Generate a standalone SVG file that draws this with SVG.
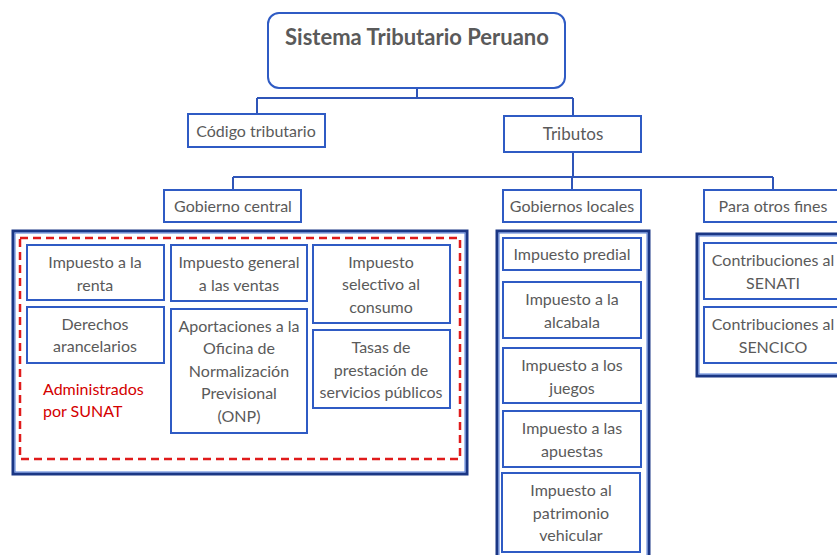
<svg xmlns="http://www.w3.org/2000/svg" width="837" height="555" viewBox="0 0 837 555">
<style>
.n{fill:#fff;stroke:#2f5bc4;stroke-width:2}
.c{fill:none;stroke:#2f55b8;stroke-width:2}
.co{fill:none;stroke:#1b3785;stroke-width:3}
.ci{fill:none;stroke:#4f78d6;stroke-width:1}
text{font-family:Lato,"Open Sans","Liberation Sans",sans-serif;fill:#5a5a5a;font-size:16px;text-anchor:middle}
.t{font-size:22px;font-weight:bold}
.r{fill:#d40000;text-anchor:start}
</style>
<rect width="837" height="555" fill="#fff"/>
<g id="connectors">
<path class="c" d="M417 88V98M257 98H573M257 98V114M573 98V116"/>
<path class="c" d="M573 152V177M233 177H773M233 177V190M572 177V190M773 177V190"/>
</g>
<g id="title"><rect class="n" x="268" y="13" width="297" height="75" rx="11"/><text class="t" x="417" y="45">Sistema Tributario Peruano</text></g>
<g id="codigo"><rect class="n" x="188" y="114" width="137" height="33"/><text x="256" y="137">Código tributario</text></g>
<g id="tributos"><rect class="n" x="504" y="116" width="137" height="36"/><text x="573" y="140" style="font-size:17px">Tributos</text></g>
<g id="gob-central"><rect class="n" x="164" y="190" width="137" height="32"/><text x="233" y="212">Gobierno central</text></g>
<g id="gob-locales"><rect class="n" x="503" y="190" width="138" height="32"/><text x="572" y="212">Gobiernos locales</text></g>
<g id="otros-fines"><rect class="n" x="704" y="190" width="140" height="32"/><text x="773" y="212">Para otros fines</text></g>
<g id="central-group">
<rect class="co" x="13" y="231" width="454" height="243"/><rect class="ci" x="15" y="233" width="450" height="239"/>
<rect x="20" y="238" width="440" height="221" fill="none" stroke="#e01b1b" stroke-width="2.5" stroke-dasharray="8 5"/>
<text class="r" x="43" y="395">Administrados</text><text class="r" x="43" y="417">por SUNAT</text>
</g>
<g id="renta"><rect class="n" x="27" y="245" width="137" height="55"/><text x="95" y="268">Impuesto a la</text><text x="95" y="291">renta</text></g>
<g id="derechos"><rect class="n" x="27" y="307" width="137" height="56"/><text x="95" y="330">Derechos</text><text x="95" y="352">arancelarios</text></g>
<g id="igv"><rect class="n" x="171" y="245" width="136" height="56"/><text x="239" y="268">Impuesto general</text><text x="239" y="291">a las ventas</text></g>
<g id="onp"><rect class="n" x="171" y="309" width="136" height="124"/><text x="239" y="332">Aportaciones a la</text><text x="239" y="354">Oficina de</text><text x="239" y="377">Normalización</text><text x="239" y="399">Previsional</text><text x="239" y="422">(ONP)</text></g>
<g id="isc"><rect class="n" x="313" y="245" width="137" height="78"/><text x="381" y="268">Impuesto</text><text x="381" y="290">selectivo al</text><text x="381" y="313">consumo</text></g>
<g id="tasas"><rect class="n" x="313" y="330" width="137" height="78"/><text x="381" y="353">Tasas de</text><text x="381" y="376">prestación de</text><text x="381" y="398">servicios públicos</text></g>
<g id="locales-group"><rect class="co" x="497" y="231" width="152" height="330"/><rect class="ci" x="499" y="233" width="148" height="330"/></g>
<g id="predial"><rect class="n" x="503" y="238" width="138" height="32"/><text x="572" y="260">Impuesto predial</text></g>
<g id="alcabala"><rect class="n" x="503" y="282" width="138" height="56"/><text x="572" y="305">Impuesto a la</text><text x="572" y="328">alcabala</text></g>
<g id="juegos"><rect class="n" x="503" y="348" width="138" height="55"/><text x="572" y="371">Impuesto a los</text><text x="572" y="394">juegos</text></g>
<g id="apuestas"><rect class="n" x="503" y="411" width="138" height="56"/><text x="572" y="434">Impuesto a las</text><text x="572" y="457">apuestas</text></g>
<g id="vehicular"><rect class="n" x="502" y="473" width="138" height="79"/><text x="571" y="496">Impuesto al</text><text x="571" y="519">patrimonio</text><text x="571" y="541">vehicular</text></g>
<g id="otros-group"><rect class="co" x="697" y="234" width="150" height="142"/><rect class="ci" x="699" y="236" width="146" height="138"/></g>
<g id="senati"><rect class="n" x="704" y="243" width="140" height="56"/><text x="773" y="266">Contribuciones al</text><text x="773" y="289">SENATI</text></g>
<g id="sencico"><rect class="n" x="704" y="307" width="140" height="56"/><text x="773" y="330">Contribuciones al</text><text x="773" y="353">SENCICO</text></g>
</svg>
